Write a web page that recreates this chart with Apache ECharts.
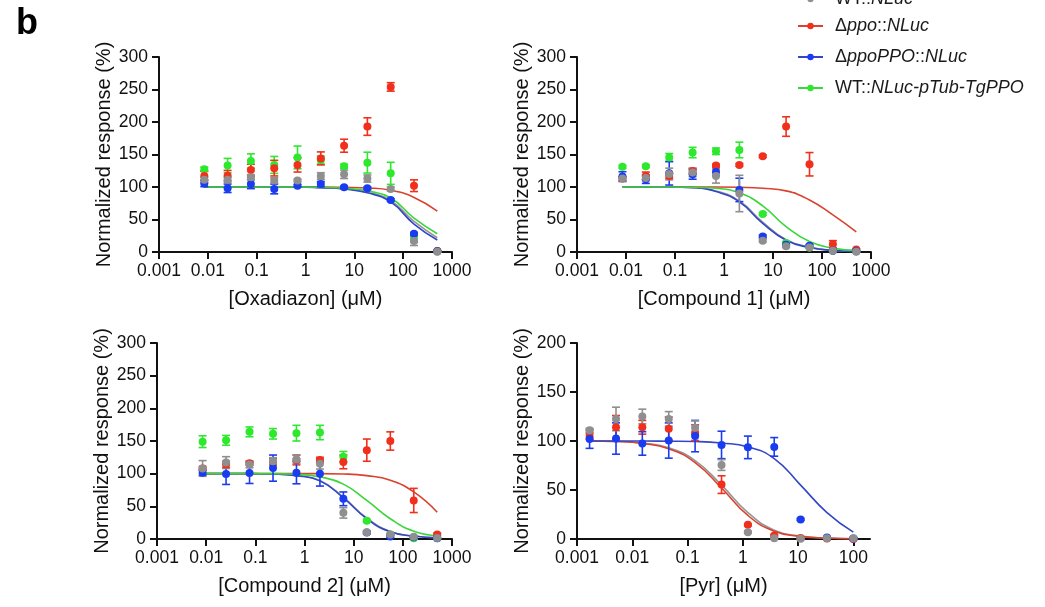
<!DOCTYPE html>
<html>
<head>
<meta charset="utf-8">
<script src="https://cdn.jsdelivr.net/npm/echarts@6/dist/echarts.min.js"></script>
<style>
html,body{margin:0;padding:0;background:#fff;}
#chart{width:1045px;height:607px;}
</style>
</head>
<body>
<div id="chart"></div>
<script>
// ---------- data ----------
const groupNames = ['WT::NLuc', 'Δppo::NLuc', 'ΔppoPPO::NLuc', 'WT::NLuc-pTub-TgPPO'];
const xTickLabels = ['0.001', '0.01', '0.1', '1', '10', '100', '1000'];
const xTickValues = [0.001, 0.01, 0.1, 1, 10, 100, 1000];
const pyrTickValues = [0.001, 0.01, 0.1, 1, 10, 100];
const yTicks300 = [0, 50, 100, 150, 200, 250, 300];
const yTicks200 = [0, 50, 100, 150, 200];

const conc = [0.00847, 0.0254, 0.0762, 0.229, 0.686, 2.06, 6.17, 18.5, 55.6, 166.7, 500];
const pyrConc = [0.00169, 0.00508, 0.0152, 0.0457, 0.137, 0.412, 1.235, 3.70, 11.1, 33.3, 100];

// Oxadiazon
const oxaGray = [111, 111, 115, 110, 110, 117, 119.5, 113, 97, 17, 0.5];
const oxaGrayErr = [4, 4, 4, 4, 2, 5, 6.5, 5.5, 3, 7, 1];
const oxaRed = [117, 117.5, 126, 129, 134, 144, 163.5, 193, 254, 102, 1.5];
const oxaRedErr = [7, 8, 9, 12, 11, 10, 10, 13.5, 6.5, 9, 1];
const oxaBlue = [105.5, 98, 104.5, 97, 102, 104.5, 99.5, 98, 80, 28, 1];
const oxaBlueErr = [5, 6.5, 7, 7.5, 2, 4, 2, 2, 2, 2, 1];
const oxaGreen = [127.5, 133, 140, 134, 145.5, 141.5, 132, 137.5, 121, 21, 1];
const oxaGreenErr = [3, 11, 11, 13, 17.5, 6, 3, 16, 17, 6, 1];
const oxaGrayFit = [100, 100, 100, 100, 100, 99, 97.5, 92, 79, 47, 22];
const oxaRedFit = [100, 100, 100, 100, 100, 100, 99.5, 98.5, 95, 84, 63];
const oxaBlueFit = [100, 100, 100, 100, 100, 99, 97, 91, 77, 43, 18.5];
const oxaGreenFit = [100, 100, 100, 100, 100, 99.5, 98, 94, 83, 52, 28];

// Compound 1
const c1Gray = [113, 114, 120, 122.5, 117, 90, 17.5, 9, 7, 2, 0.5];
const c1GrayErr = [3, 3, 9, 6.5, 11, 28, 2, 2, 1, 1, 1];
const c1Red = [113, 117, 117, 124.5, 133, 134, 147.5, 193, 135, 12, 4];
const c1RedErr = [3, 6, 4, 4, 2, 2, 2, 15, 18, 5.5, 1];
const c1Blue = [116, 112, 121, 119.5, 123, 95.5, 24, 11, 9.5, 2, 1];
const c1BlueErr = [7.5, 6.5, 18, 7.5, 5.5, 18, 2, 2, 2, 1, 1];
const c1Green = [131, 132, 145.5, 153, 155, 157, 58.5, 14, 7, 2, 1];
const c1GreenErr = [2, 2, 6, 8, 5, 12, 2, 2, 1, 1, 1];
const c1GrayFit = [100, 100, 100, 99.2, 94, 78.5, 46, 19, 7.5, 2.5, 1];
const c1RedFit = [100, 100, 100, 100, 100, 99.5, 98, 94, 80, 57, 31];
const c1BlueFit = [100, 100, 100, 99, 93, 77, 44, 18, 7, 2.5, 1];
const c1GreenFit = [100, 100, 100, 99.5, 98, 91, 71, 39, 16, 6, 2.5];

// Compound 2
const c2Gray = [108, 117, 114, 119, 122, 115, 40, 10.5, 7, 3.5, 1.5];
const c2GrayErr = [12, 9, 5, 5.5, 6.5, 8, 8, 2, 1, 1, 1];
const c2Red = [108, 114, 116, 118, 121, 121, 118, 136, 150, 59, 7];
const c2RedErr = [3, 5, 3, 5, 7.5, 4, 10.5, 17, 14, 18.5, 2];
const c2Blue = [101.5, 99.5, 101, 108.5, 101.5, 100, 61.5, 10, 4, 2.5, 1];
const c2BlueErr = [4, 16, 16, 20, 17, 19, 10.5, 2, 2, 1, 1];
const c2Green = [149, 151, 164, 161, 162, 163, 126, 28, 7, 1, 1];
const c2GreenErr = [9, 7.5, 7.5, 8, 12, 11, 8, 2, 1, 1, 1];
const c2GrayFit = [100, 100, 100, 99.5, 97, 89.5, 64, 32, 11.5, 4.5, 2];
const c2RedFit = [100, 100, 100, 100, 100, 100, 99.5, 97, 90, 72, 41];
const c2BlueFit = [100, 100, 100, 99.5, 97, 89, 63, 31, 11, 4.5, 2];
const c2GreenFit = [100, 100, 100, 100, 99, 95, 84, 59, 31, 12, 5];

// Pyr
const pyrGray = [111, 122.5, 125, 122.5, 113.5, 75.5, 7, 0.7, 0.3, 0.7, 0.7];
const pyrGrayErr = [2, 12, 7.5, 7.5, 7, 5.5, 1, 1, 1, 1, 1];
const pyrRed = [105, 114, 114, 112.5, 108.5, 55.5, 14.5, 3.5, 1, 0.5, 0];
const pyrRedErr = [3, 12, 7, 12, 8, 9, 1, 1, 1, 1, 1];
const pyrBlue = [102, 102.5, 97.5, 100.5, 105, 96, 93.5, 94, 20, 1.5, 0.5];
const pyrBlueErr = [9.5, 16, 12, 18, 16, 14, 11.5, 9.5, 1, 1, 1];
const pyrGrayFit = [100, 99.6, 98, 93, 80, 55, 27, 9, 3, 1, 0.3];
const pyrRedFit = [100, 99.5, 97.5, 92, 78, 52, 24, 8, 2.7, 1, 0.3];
const pyrBlueFit = [100, 100, 100, 99.8, 99.5, 98, 94, 82, 55, 27, 7];

// ---------- styling ----------
const FONT = 'Liberation Sans, Arial, Helvetica, sans-serif';
const dotColors = ['#8f8f8f', '#f0301c', '#1a3cf0', '#2ee82e'];
const lineColors = ['#969696', '#d8422f', '#3346c8', '#3bd63b'];

const panels = [
  { name: '[Oxadiazon] (μM)', x: conc, xmax: 1000, ymax: 300, ticks: xTickValues,
    grid: { left: 159, top: 57, width: 293, height: 195 },
    pts: [oxaGray, oxaRed, oxaBlue, oxaGreen], err: [oxaGrayErr, oxaRedErr, oxaBlueErr, oxaGreenErr],
    fit: [oxaGrayFit, oxaRedFit, oxaBlueFit, oxaGreenFit] },
  { name: '[Compound 1] (μM)', x: conc, xmax: 1000, ymax: 300, ticks: xTickValues,
    grid: { left: 577, top: 57, width: 294, height: 195 },
    pts: [c1Gray, c1Red, c1Blue, c1Green], err: [c1GrayErr, c1RedErr, c1BlueErr, c1GreenErr],
    fit: [c1GrayFit, c1RedFit, c1BlueFit, c1GreenFit] },
  { name: '[Compound 2] (μM)', x: conc, xmax: 1000, ymax: 300, ticks: xTickValues,
    grid: { left: 157, top: 343, width: 295, height: 196 },
    pts: [c2Gray, c2Red, c2Blue, c2Green], err: [c2GrayErr, c2RedErr, c2BlueErr, c2GreenErr],
    fit: [c2GrayFit, c2RedFit, c2BlueFit, c2GreenFit] },
  { name: '[Pyr] (μM)', x: pyrConc, xmax: 200, ymax: 200, ticks: pyrTickValues,
    grid: { left: 577, top: 343, width: 293, height: 196 },
    pts: [pyrGray, pyrRed, pyrBlue, null], err: [pyrGrayErr, pyrRedErr, pyrBlueErr, null],
    fit: [pyrGrayFit, pyrRedFit, pyrBlueFit, null] }
];

const grids = [], xAxes = [], yAxes = [], series = [];
const axisLineStyle = { color: '#111', width: 2 };

panels.forEach((p, i) => {
  grids.push(Object.assign({ containLabel: false }, p.grid));
  xAxes.push({
    type: 'log', logBase: 10, gridIndex: i, min: 0.001, max: p.xmax,
    name: p.name, nameLocation: 'middle', nameGap: 37,
    nameTextStyle: { fontFamily: FONT, fontSize: 20, color: '#111' },
    axisLine: { lineStyle: axisLineStyle },
    axisTick: { show: true, length: 7, lineStyle: { color: '#111', width: 2 }, customValues: p.ticks },
    minorTick: { show: false },
    axisLabel: { fontFamily: FONT, fontSize: 17.5, color: '#111', margin: 10, customValues: p.ticks,
      formatter: v => xTickLabels[Math.round(Math.log10(v)) + 3] },
    splitLine: { show: false }
  });
  yAxes.push({
    type: 'value', gridIndex: i, min: 0, max: p.ymax, interval: 50,
    name: 'Normalized response (%)', nameLocation: 'middle', nameGap: 45,
    nameTextStyle: { fontFamily: FONT, fontSize: 20, color: '#111' },
    axisLine: { show: true, lineStyle: axisLineStyle },
    axisTick: { show: true, length: 7, lineStyle: { color: '#111', width: 2 } },
    axisLabel: { fontFamily: FONT, fontSize: 17.5, color: '#111', margin: 11 },
    splitLine: { show: false }
  });
});

// fit curves (first so legend picks line icons)
panels.forEach((p, i) => {
  p.fit.forEach((f, g) => {
    if (!f) return;
    series.push({
      type: 'line', name: groupNames[g], xAxisIndex: i, yAxisIndex: i,
      data: p.x.map((x, k) => [x, f[k]]),
      smooth: 0.5, symbol: 'circle', symbolSize: 8, showSymbol: false,
      lineStyle: { color: lineColors[g], width: 1.6 }, itemStyle: { color: dotColors[g] },
      z: 2, silent: true, animation: false
    });
  });
});

// draw order of points: green, red, blue, gray (gray on top)
const drawOrder = [3, 1, 2, 0];
panels.forEach((p, i) => {
  drawOrder.forEach(g => {
    if (!p.pts[g]) return;
    const col = dotColors[g];
    series.push({
      type: 'custom', name: groupNames[g], xAxisIndex: i, yAxisIndex: i,
      data: p.x.map((x, k) => [x, p.pts[g][k], p.err[g][k]]),
      encode: { x: 0, y: 1 }, z: 3, silent: true, animation: false,
      renderItem: (params, api) => {
        const x = api.value(0), y = api.value(1), e = api.value(2);
        const t = api.coord([x, y + e]);
        const b = api.coord([x, y - e]);
        const hw = 4;
        const st = { stroke: col, lineWidth: 1.6 };
        return { type: 'group', children: [
          { type: 'line', shape: { x1: t[0], y1: t[1], x2: b[0], y2: b[1] }, style: st },
          { type: 'line', shape: { x1: t[0] - hw, y1: t[1], x2: t[0] + hw, y2: t[1] }, style: st },
          { type: 'line', shape: { x1: b[0] - hw, y1: b[1], x2: b[0] + hw, y2: b[1] }, style: st }
        ]};
      }
    });
    series.push({
      type: 'scatter', name: groupNames[g], xAxisIndex: i, yAxisIndex: i,
      data: p.x.map((x, k) => [x, p.pts[g][k]]),
      symbol: 'circle', symbolSize: 8, itemStyle: { color: col, opacity: 1 },
      z: 4, silent: true, animation: false
    });
  });
});

const richNames = {
  'WT::NLuc': '{s|}{n|WT::}{i|NLuc}',
  'Δppo::NLuc': '{s|}{n|Δ}{i|ppo}{n|::}{i|NLuc}',
  'ΔppoPPO::NLuc': '{s|}{n|Δ}{i|ppoPPO}{n|::}{i|NLuc}',
  'WT::NLuc-pTub-TgPPO': '{s|}{n|WT::}{i|NLuc-pTub-TgPPO}'
};
const legendText = {
  fontFamily: FONT, fontSize: 18, color: '#1a1a1a', lineHeight: 20,
  rich: {
    s: { width: 7 },
    n: { fontFamily: FONT, fontSize: 18, color: '#1a1a1a', lineHeight: 20 },
    i: { fontFamily: FONT, fontSize: 18, fontStyle: 'italic', color: '#1a1a1a', lineHeight: 20 }
  }
};
const legendBase = {
  orient: 'vertical', left: 797, padding: 0, itemWidth: 25, itemHeight: 8, itemGap: 11,
  selectedMode: false, formatter: n => richNames[n], textStyle: legendText
};

const option = {
  backgroundColor: '#fff',
  animation: false,
  title: { text: 'b', left: 11, top: 1, textStyle: { fontFamily: FONT, fontSize: 36, fontWeight: 'bold', color: '#000' } },
  legend: [
    Object.assign({ data: [groupNames[0]], top: -11 }, legendBase),
    Object.assign({ data: groupNames.slice(1), top: 16 }, legendBase)
  ],
  grid: grids, xAxis: xAxes, yAxis: yAxes, series: series
};

const chart = echarts.init(document.getElementById('chart'), null, { renderer: 'canvas' });
chart.setOption(option);
</script>
</body>
</html>
